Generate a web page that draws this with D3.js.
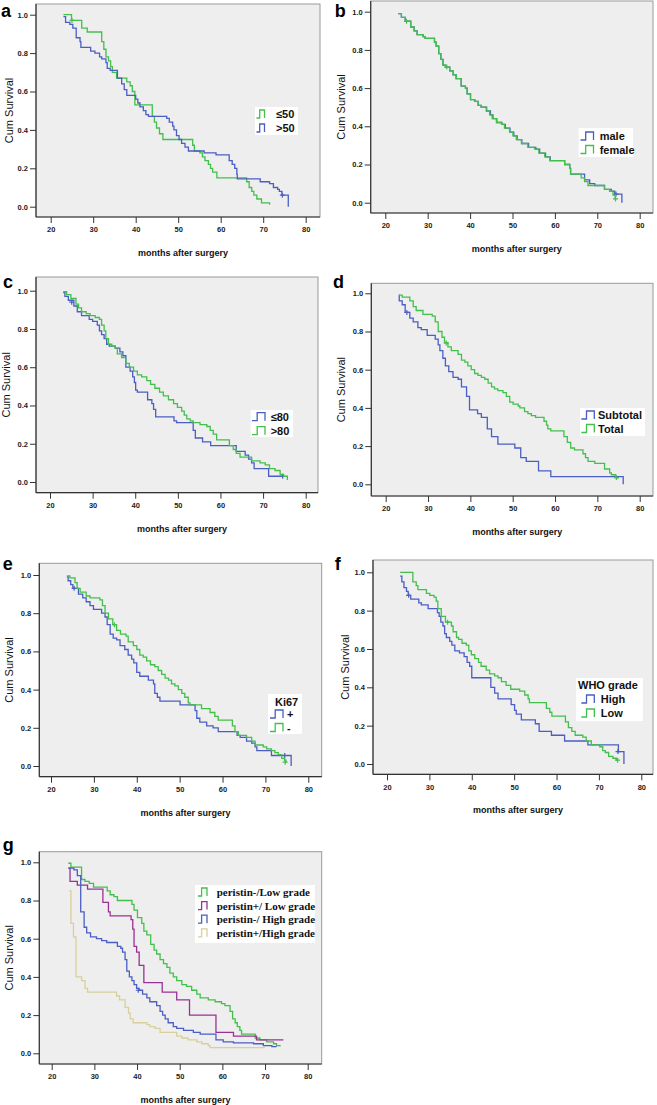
<!DOCTYPE html>
<html>
<head>
<meta charset="utf-8">
<script src="https://cdn.jsdelivr.net/npm/d3@7"></script>
<style>
  body { margin: 0; background: #fff; }
  svg { display: block; font-family: "Liberation Sans", Arial, sans-serif; }
</style>
</head>
<body>
<script>
// tick values shared by every panel
var xTicks = [20, 30, 40, 50, 60, 70, 80];
var yTicks = [0, 0.2, 0.4, 0.6, 0.8, 1.0];
var xTitle = "months after surgery";
var yTitle = "Cum Survival";

// legend labels
var labelsA = ["\u226450", ">50"];
var labelsB = ["male", "female"];
var labelsC = ["\u226480", ">80"];
var labelsD = ["Subtotal", "Total"];
var labelsE = ["+", "-"];
var labelsF = ["High", "Low"];
var labelsG = ["peristin-/Low grade", "peristin+/ Low grade", "peristin-/ High grade", "peristin+/High grade"];

// survival steps: [months, cum survival after the step]
var aLe50 = [[23.0,1.0],[24.9,0.97],[27.3,0.93],[28.6,0.91],[32.0,0.86],[32.5,0.82],[33.0,0.78],[33.6,0.76],[34.1,0.73],[34.5,0.70],[35.5,0.67],[37.9,0.65],[38.7,0.63],[39.2,0.60],[39.8,0.53],[43.9,0.47],[44.4,0.44],[44.9,0.41],[45.6,0.38],[46.4,0.35],[53.4,0.32],[53.8,0.29],[55.1,0.28],[55.7,0.26],[56.3,0.24],[57.1,0.22],[57.6,0.20],[58.1,0.18],[59.1,0.15],[66.1,0.13],[66.7,0.10],[67.3,0.08],[67.8,0.06],[68.5,0.04],[69.6,0.02],[71.5,0.01]];
var aGt50 = [[23.0,0.99],[23.5,0.96],[24.5,0.95],[25.2,0.93],[26.0,0.88],[26.9,0.86],[27.1,0.83],[29.4,0.81],[30.4,0.80],[31.5,0.78],[32.0,0.77],[33.0,0.75],[33.3,0.72],[34.0,0.71],[35.7,0.67],[36.7,0.64],[37.3,0.61],[37.9,0.58],[40.0,0.56],[40.5,0.54],[41.0,0.52],[41.8,0.50],[42.4,0.48],[43.0,0.47],[47.3,0.46],[47.9,0.44],[48.7,0.42],[49.0,0.40],[49.6,0.37],[50.2,0.35],[50.8,0.33],[51.6,0.31],[52.4,0.29],[56.1,0.28],[58.9,0.27],[62.0,0.24],[62.7,0.22],[63.3,0.20],[63.8,0.17],[63.9,0.145],[69.3,0.13],[71.5,0.12],[72.4,0.10],[73.4,0.09],[73.8,0.08],[74.4,0.06],[75.9,0.0]];
var aLe50Cens = [[25.0,0.97]];
var aGt50Cens = [[74.5,0.06]];

var bMale = [[23.0,0.99],[23.8,0.97],[24.7,0.95],[26.0,0.92],[26.8,0.90],[27.5,0.88],[28.9,0.87],[29.4,0.86],[31.6,0.84],[32.0,0.82],[32.6,0.78],[33.1,0.75],[33.6,0.72],[34.2,0.71],[35.2,0.69],[36.0,0.67],[36.7,0.65],[37.9,0.61],[38.9,0.60],[39.3,0.57],[40.1,0.54],[41.1,0.53],[41.9,0.51],[42.6,0.50],[43.9,0.48],[44.8,0.46],[45.4,0.44],[46.3,0.42],[47.5,0.41],[48.3,0.39],[49.4,0.37],[50.3,0.35],[51.1,0.33],[52.2,0.31],[53.8,0.29],[55.5,0.28],[56.4,0.26],[57.8,0.24],[58.9,0.22],[62.3,0.20],[63.5,0.18],[63.7,0.15],[67.0,0.12],[68.2,0.10],[69.4,0.09],[71.7,0.07],[73.3,0.06],[74.1,0.045],[75.8,0.0]];
var bFemale = [[23.0,0.99],[23.8,0.97],[24.7,0.95],[26.0,0.92],[26.8,0.90],[27.5,0.88],[28.9,0.87],[29.4,0.86],[31.6,0.84],[32.0,0.82],[32.6,0.78],[33.1,0.75],[33.6,0.72],[34.2,0.71],[35.2,0.69],[36.0,0.67],[36.7,0.65],[37.9,0.61],[38.9,0.60],[39.3,0.57],[40.1,0.54],[41.1,0.53],[41.9,0.51],[42.6,0.50],[43.8,0.48],[44.6,0.46],[45.2,0.44],[46.2,0.42],[47.4,0.41],[48.1,0.39],[49.3,0.37],[50.1,0.35],[50.9,0.33],[52.1,0.31],[53.6,0.29],[55.2,0.28],[56.2,0.26],[57.6,0.24],[58.8,0.22],[62.3,0.20],[63.5,0.18],[63.7,0.15],[66.2,0.13],[67.0,0.11],[67.8,0.09],[71.7,0.07],[72.9,0.06],[73.7,0.04],[74.2,0.02]];
var bMaleCens = [[74.4,0.045]];
var bFemaleCens = [[25.0,0.95],[34.5,0.71],[74.3,0.02]];

var cLe80 = [[23.1,0.99],[23.5,0.97],[24.3,0.95],[25.6,0.92],[26.4,0.89],[27.4,0.87],[29.2,0.85],[30.0,0.84],[31.1,0.82],[31.6,0.79],[32.1,0.77],[32.7,0.75],[33.3,0.72],[33.9,0.71],[35.3,0.70],[36.4,0.68],[37.1,0.66],[37.8,0.60],[38.8,0.58],[39.4,0.55],[39.8,0.52],[40.1,0.48],[40.5,0.47],[42.9,0.43],[43.9,0.41],[44.3,0.38],[44.8,0.34],[49.1,0.32],[49.7,0.31],[53.6,0.27],[54.1,0.23],[55.8,0.21],[57.7,0.19],[63.7,0.16],[65.8,0.14],[66.6,0.12],[67.3,0.10],[67.9,0.07],[71.3,0.03],[74.6,0.03]];
var cGt80 = [[23.1,0.995],[23.9,0.98],[24.9,0.96],[26.1,0.93],[26.7,0.91],[27.4,0.89],[28.5,0.88],[29.4,0.87],[30.6,0.86],[31.6,0.85],[32.1,0.82],[32.7,0.79],[33.1,0.75],[33.7,0.72],[34.5,0.71],[35.3,0.70],[35.8,0.67],[36.8,0.65],[37.8,0.62],[38.6,0.60],[39.6,0.58],[40.5,0.56],[41.5,0.55],[42.7,0.53],[43.6,0.51],[44.6,0.49],[45.7,0.47],[46.6,0.45],[47.8,0.43],[49.0,0.41],[49.9,0.39],[50.9,0.37],[51.5,0.35],[52.1,0.33],[52.9,0.32],[53.6,0.31],[55.2,0.30],[56.8,0.29],[57.6,0.27],[58.3,0.25],[59.1,0.22],[62.1,0.19],[63.0,0.17],[63.7,0.15],[64.6,0.13],[67.3,0.11],[69.3,0.10],[70.5,0.09],[71.5,0.07],[72.8,0.06],[74.0,0.04],[74.8,0.03],[75.7,0.01]];
var cLe80Cens = [[25.1,0.94],[74.6,0.03]];
var cGt80Cens = [];

var dSubtotal = [[23.1,0.99],[23.2,0.96],[23.9,0.94],[24.6,0.90],[25.7,0.87],[26.5,0.85],[27.6,0.82],[28.4,0.81],[29.8,0.78],[31.7,0.76],[32.4,0.73],[32.8,0.70],[33.5,0.66],[34.1,0.62],[34.9,0.59],[35.9,0.56],[37.1,0.55],[37.9,0.51],[39.1,0.46],[39.8,0.39],[41.7,0.37],[42.6,0.35],[44.0,0.29],[45.0,0.25],[46.5,0.21],[50.5,0.19],[51.9,0.14],[53.2,0.12],[56.1,0.07],[59.0,0.04],[76.1,0.0]];
var dTotal = [[23.1,0.99],[23.9,0.98],[25.7,0.96],[26.5,0.93],[27.2,0.91],[28.8,0.89],[31.0,0.88],[31.7,0.85],[32.4,0.80],[33.3,0.77],[33.9,0.74],[34.7,0.72],[35.5,0.70],[37.1,0.68],[37.9,0.65],[38.7,0.64],[39.4,0.62],[40.2,0.60],[41.0,0.58],[41.8,0.57],[42.6,0.56],[43.4,0.55],[44.2,0.53],[45.0,0.51],[45.7,0.50],[46.5,0.49],[47.7,0.48],[48.5,0.46],[49.3,0.43],[50.1,0.42],[51.3,0.41],[51.7,0.40],[52.8,0.38],[53.6,0.37],[54.4,0.36],[55.4,0.35],[57.4,0.33],[58.0,0.31],[58.3,0.29],[59.0,0.28],[62.1,0.25],[62.9,0.22],[63.7,0.19],[64.6,0.18],[66.6,0.16],[67.2,0.14],[67.8,0.12],[69.4,0.11],[71.7,0.08],[72.9,0.06],[73.3,0.05],[74.3,0.035],[74.9,0.03]];
var dSubtotalCens = [[25.0,0.90]];
var dTotalCens = [[34.3,0.74],[74.5,0.035]];

var ePos = [[23.7,0.99],[24.0,0.97],[24.6,0.95],[25.1,0.93],[26.4,0.90],[27.4,0.88],[28.2,0.86],[29.1,0.84],[29.9,0.82],[31.8,0.80],[32.6,0.78],[33.1,0.74],[33.8,0.69],[34.5,0.67],[35.3,0.66],[36.1,0.63],[37.2,0.61],[38.0,0.58],[38.8,0.56],[39.3,0.54],[40.0,0.49],[40.7,0.47],[42.7,0.45],[43.9,0.43],[44.2,0.38],[44.8,0.36],[45.4,0.34],[50.1,0.32],[53.6,0.29],[54.0,0.25],[54.7,0.23],[56.3,0.21],[57.8,0.20],[59.0,0.18],[63.4,0.16],[64.1,0.15],[65.6,0.13],[66.8,0.12],[67.6,0.10],[68.0,0.08],[71.4,0.055],[76.0,0.0]];
var eNeg = [[23.7,0.995],[24.4,0.985],[25.6,0.96],[26.1,0.93],[26.8,0.91],[28.2,0.89],[29.1,0.88],[31.4,0.87],[32.0,0.84],[32.6,0.80],[33.4,0.77],[34.4,0.74],[35.3,0.71],[36.2,0.69],[37.5,0.68],[38.0,0.65],[39.2,0.63],[40.0,0.61],[40.7,0.58],[41.5,0.57],[42.3,0.55],[43.2,0.53],[44.2,0.52],[45.0,0.50],[45.8,0.48],[46.6,0.46],[47.4,0.45],[48.1,0.43],[48.9,0.42],[49.7,0.40],[50.5,0.38],[51.2,0.36],[52.0,0.33],[52.4,0.32],[55.1,0.30],[57.1,0.28],[58.2,0.26],[59.0,0.24],[62.3,0.21],[62.9,0.18],[63.7,0.16],[65.6,0.15],[66.8,0.13],[67.6,0.11],[69.5,0.10],[70.3,0.09],[71.4,0.08],[72.2,0.07],[73.0,0.06],[73.8,0.04],[74.5,0.03],[74.8,0.02]];
var ePosCens = [[25.4,0.93],[74.5,0.055]];
var eNegCens = [[34.8,0.74],[74.6,0.02]];

var fHigh = [[23.1,0.98],[23.5,0.95],[24.0,0.92],[24.6,0.90],[25.0,0.88],[25.6,0.86],[27.5,0.84],[28.1,0.83],[29.7,0.81],[31.9,0.79],[32.3,0.77],[32.7,0.74],[33.2,0.72],[33.6,0.68],[34.0,0.66],[34.8,0.64],[35.3,0.62],[36.0,0.59],[37.1,0.58],[38.2,0.56],[38.9,0.53],[39.5,0.51],[40.0,0.45],[44.5,0.40],[45.4,0.37],[46.2,0.34],[49.3,0.31],[50.1,0.28],[50.5,0.26],[51.7,0.23],[55.0,0.21],[55.9,0.17],[58.8,0.15],[61.9,0.12],[67.4,0.10],[74.6,0.065],[75.9,0.0]];
var fLow = [[23.1,1.0],[26.1,0.95],[26.9,0.93],[27.3,0.91],[29.3,0.89],[30.1,0.88],[31.1,0.87],[31.6,0.85],[32.0,0.81],[32.8,0.77],[33.8,0.74],[35.2,0.72],[35.6,0.69],[36.4,0.66],[36.9,0.65],[37.7,0.63],[38.7,0.62],[39.3,0.59],[39.9,0.57],[40.7,0.55],[41.6,0.53],[42.2,0.51],[43.4,0.49],[44.2,0.47],[45.4,0.46],[46.2,0.45],[47.0,0.43],[48.1,0.41],[49.2,0.39],[51.3,0.38],[52.5,0.36],[53.3,0.34],[53.6,0.32],[57.6,0.29],[58.4,0.27],[58.9,0.25],[62.1,0.22],[62.8,0.19],[63.6,0.17],[64.4,0.15],[66.2,0.14],[67.0,0.12],[68.2,0.10],[70.2,0.09],[70.9,0.07],[71.5,0.06],[72.3,0.04],[73.3,0.03],[74.1,0.02],[74.5,0.02]];
var fHighCens = [[25.1,0.88],[74.5,0.065]];
var fLowCens = [[34.3,0.74],[74.4,0.02]];

var gNegLow = [[23.9,0.995],[24.5,0.975],[27.0,0.91],[27.8,0.90],[28.8,0.89],[29.8,0.87],[33.0,0.85],[33.7,0.83],[34.6,0.82],[35.4,0.80],[38.8,0.78],[39.3,0.75],[40.1,0.71],[41.1,0.68],[41.6,0.64],[42.3,0.62],[43.2,0.57],[44.0,0.54],[44.6,0.52],[45.4,0.49],[46.2,0.47],[47.0,0.45],[47.7,0.42],[48.5,0.40],[49.3,0.38],[50.5,0.36],[51.6,0.35],[52.8,0.33],[54.0,0.31],[54.8,0.29],[56.7,0.28],[58.3,0.27],[59.8,0.26],[60.6,0.25],[61.8,0.22],[62.4,0.18],[63.0,0.16],[63.5,0.14],[64.1,0.12],[64.5,0.10],[67.7,0.08],[68.8,0.07],[70.4,0.06],[72.0,0.05],[72.7,0.04],[73.5,0.035]];
var gPosLow = [[23.9,0.97],[24.3,0.90],[26.0,0.88],[28.4,0.86],[32.0,0.79],[33.3,0.74],[33.7,0.72],[38.6,0.70],[39.0,0.65],[39.3,0.56],[39.9,0.53],[40.5,0.46],[41.6,0.37],[45.9,0.32],[49.3,0.28],[52.3,0.20],[58.5,0.11],[62.6,0.09],[68.0,0.07],[74.3,0.07]];
var gNegHigh = [[23.9,0.97],[25.2,0.96],[26.0,0.93],[26.8,0.74],[27.6,0.66],[28.2,0.63],[29.1,0.61],[30.5,0.60],[31.7,0.59],[32.9,0.58],[35.4,0.56],[36.2,0.55],[36.6,0.53],[37.2,0.49],[37.6,0.43],[38.2,0.40],[38.8,0.38],[39.3,0.36],[39.9,0.34],[40.5,0.33],[41.3,0.31],[42.3,0.29],[43.0,0.27],[44.6,0.25],[45.4,0.22],[46.0,0.20],[46.6,0.18],[47.3,0.16],[48.5,0.14],[49.3,0.13],[50.9,0.12],[53.2,0.11],[54.8,0.10],[58.5,0.07],[60.2,0.06],[62.6,0.055],[67.3,0.05],[69.6,0.04],[71.6,0.035],[72.7,0.035]];
var gPosHigh = [[24.1,0.85],[24.5,0.68],[25.1,0.61],[25.7,0.40],[27.0,0.38],[27.8,0.34],[28.4,0.32],[35.2,0.30],[35.9,0.28],[37.2,0.24],[38.0,0.21],[38.4,0.18],[39.1,0.16],[42.3,0.15],[43.0,0.14],[44.2,0.13],[45.4,0.11],[49.3,0.09],[50.5,0.08],[52.0,0.07],[54.0,0.06],[55.2,0.05],[56.7,0.04],[57.1,0.03],[70.0,0.03]];
var gNegHighCens = [[40.3,0.33]];

var green = "#42c04b", blue = "#4a5ec4", purple = "#9a3196", tan = "#d8cf9c";

// layout of each sub-figure (frame box and where ticks 20/80 and 0/1 land)
var panels = [
  { letter: "a", lx: 1, ly: 17, L: 36, T: 4, R: 320, B: 217, x20: 50.7, x80: 305.7, y0: 206.7, y1: 14.7, yt: -27,
    series: [{ d: aLe50, c: green, cens: aLe50Cens }, { d: aGt50, c: blue, cens: aGt50Cens }],
    legend: { x: 255, y: 107, w: 43, h: 28, sx: 256.5, sw: 8, tx: 276, r0: 114, dy: 14, labels: labelsA, colors: [green, blue] } },
  { letter: "b", lx: 334.7, ly: 17, L: 370.7, T: 1, R: 653, B: 213, x20: 385.3, x80: 639.7, y0: 202.7, y1: 11.7, yt: -30,
    series: [{ d: bMale, c: blue, cens: bMaleCens }, { d: bFemale, c: green, cens: bFemaleCens }],
    legend: { x: 578.7, y: 128, w: 54.3, h: 29, sx: 580.5, sw: 13, tx: 599.7, r0: 136, dy: 13.5, labels: labelsB, colors: [blue, green] } },
  { letter: "c", lx: 3, ly: 288, L: 36, T: 277, R: 318, B: 492.7, x20: 50, x80: 305.7, y0: 482, y1: 290.7, yt: -30,
    series: [{ d: cLe80, c: blue, cens: cLe80Cens }, { d: cGt80, c: green, cens: cGt80Cens }],
    legend: { x: 250.7, y: 410, w: 42.3, h: 27, sx: 252, sw: 13, tx: 270.7, r0: 416.7, dy: 14, labels: labelsC, colors: [blue, green] } },
  { letter: "d", lx: 333, ly: 288, L: 371.3, T: 283.3, R: 653, B: 496, x20: 385.7, x80: 639.7, y0: 484.3, y1: 293.3, yt: -30,
    series: [{ d: dSubtotal, c: blue, cens: dSubtotalCens }, { d: dTotal, c: green, cens: dTotalCens }],
    legend: { x: 580, y: 408, w: 65, h: 28, sx: 581.3, sw: 13, tx: 598, r0: 415, dy: 13.5, labels: labelsD, colors: [blue, green] } },
  { letter: "e", lx: 2.7, ly: 570, L: 39.3, T: 563.3, R: 321.7, B: 776.7, x20: 51, x80: 308.3, y0: 766, y1: 575, yt: -30,
    series: [{ d: ePos, c: blue, cens: ePosCens }, { d: eNeg, c: green, cens: eNegCens }],
    legend: { x: 268, y: 694, w: 34, h: 40, title: "Ki67", ttx: 275, tty: 705.5, sx: 270, sw: 13, tx: 287, r0: 714, dy: 13.5, labels: labelsE, colors: [blue, green] } },
  { letter: "f", lx: 334.7, ly: 570, L: 373, T: 560, R: 653, B: 774.3, x20: 387, x80: 641.3, y0: 764, y1: 572.3, yt: -28,
    series: [{ d: fHigh, c: blue, cens: fHighCens }, { d: fLow, c: green, cens: fLowCens }],
    legend: { x: 576, y: 678, w: 67, h: 43, title: "WHO grade", ttx: 578, tty: 689, sx: 581.3, sw: 13, tx: 600.7, r0: 699, dy: 14, labels: labelsF, colors: [blue, green] } },
  { letter: "g", lx: 2.7, ly: 851, L: 39.3, T: 851.7, R: 321.7, B: 1064, x20: 51.7, x80: 307.7, y0: 1053.3, y1: 862.3, yt: -30,
    series: [{ d: gNegLow, c: green, cens: [] }, { d: gPosLow, c: purple, cens: [] }, { d: gNegHigh, c: blue, cens: gNegHighCens }, { d: gPosHigh, c: tan, cens: [] }],
    legend: { x: 195, y: 885, w: 120, h: 58, serif: true, sx: 198, sw: 9, tx: 216.7, r0: 892, dy: 13.6, labels: labelsG, colors: [green, purple, blue, tan] } }
];

var svg = d3.select("body").append("svg")
  .attr("width", 657)
  .attr("height", 1105);

panels.forEach(function(p) {
  var x = d3.scaleLinear().domain([20, 80]).range([p.x20, p.x80]);
  var y = d3.scaleLinear().domain([0, 1]).range([p.y0, p.y1]);
  var g = svg.append("g");

  // plot background and frame
  g.append("rect").attr("x", p.L).attr("y", p.T).attr("width", p.R - p.L).attr("height", p.B - p.T)
    .attr("fill", "#eeeeee").attr("stroke", "#9a9a9a").attr("stroke-width", 1);
  g.append("line").attr("x1", p.L).attr("x2", p.L).attr("y1", p.T).attr("y2", p.B).attr("stroke", "#333").attr("stroke-width", 1.2);
  g.append("line").attr("x1", p.L).attr("x2", p.R).attr("y1", p.B).attr("y2", p.B).attr("stroke", "#333").attr("stroke-width", 1.2);

  var yAxis = d3.axisLeft(y).tickValues(yTicks).tickFormat(d3.format(".1f")).tickSize(6).tickPadding(2);
  var xAxis = d3.axisBottom(x).tickValues(xTicks).tickSize(6).tickPadding(4);

  var ya = g.append("g").attr("transform", "translate(" + p.L + ",0)").call(yAxis);
  var xa = g.append("g").attr("transform", "translate(0," + p.B + ")").call(xAxis);
  [ya, xa].forEach(function(a) {
    a.select(".domain").remove();
    a.selectAll("line").attr("stroke", "#333");
    a.selectAll("text").attr("fill", "#222").style("font-size", "7.5px").style("font-weight", "bold")
      .style("font-family", "'Liberation Sans', Arial, sans-serif");
  });

  // curves
  var line = d3.line()
    .x(function(d) { return x(d[0]); })
    .y(function(d) { return y(d[1]); })
    .curve(d3.curveStepAfter);

  p.series.forEach(function(s) {
    g.append("path").attr("d", line(s.d)).attr("fill", "none")
      .attr("stroke", s.c).attr("stroke-width", 1.3);
    g.selectAll(null).data(s.cens).enter().append("path")
      .attr("d", function(d) {
        var cx = x(d[0]), cy = y(d[1]);
        return "M" + (cx - 2.5) + "," + cy + "H" + (cx + 2.5) + "M" + cx + "," + (cy - 2.5) + "V" + (cy + 2.5);
      })
      .attr("stroke", s.c).attr("stroke-width", 1.2);
  });

  // legend
  var lg = p.legend;
  g.append("rect").attr("x", lg.x).attr("y", lg.y).attr("width", lg.w).attr("height", lg.h).attr("fill", "#fff");
  if (lg.title) {
    g.append("text").attr("x", lg.ttx).attr("y", lg.tty).text(lg.title)
      .style("font-size", "11px").style("font-weight", "bold").attr("fill", "#111");
  }
  lg.labels.forEach(function(lab, i) {
    var cy = lg.r0 + i * lg.dy;
    var s0 = lg.sx, s1 = lg.sx + lg.sw * 0.4, s2 = lg.sx + lg.sw;
    g.append("path")
      .attr("d", "M" + s0 + "," + (cy + 4) + "H" + s1 + "V" + (cy - 4) + "H" + s2 + "V" + (cy + 4))
      .attr("fill", "none").attr("stroke", lg.colors[i]).attr("stroke-width", 1.3);
    g.append("text").attr("x", lg.tx).attr("y", cy + 4).text(lab)
      .style("font-size", "11px").style("font-weight", "bold").attr("fill", "#111")
      .style("font-family", lg.serif ? "'Liberation Serif', 'Times New Roman', serif" : null);
  });

  // titles
  g.append("text").attr("x", (p.L + p.R) / 2 + 5).attr("y", p.B + 39).attr("text-anchor", "middle")
    .text(xTitle).style("font-size", "9px").style("font-weight", "bold").attr("fill", "#111");
  var ty = (p.T + p.B) / 2, tx = p.L + p.yt + 4;
  g.append("text").attr("transform", "translate(" + tx + "," + ty + ") rotate(-90)").attr("text-anchor", "middle")
    .text(yTitle).style("font-size", "11px").attr("fill", "#111");
  g.append("text").attr("x", p.lx).attr("y", p.ly).text(p.letter)
    .style("font-size", "18px").style("font-weight", "bold").attr("fill", "#000");
});
</script>
</body>
</html>
